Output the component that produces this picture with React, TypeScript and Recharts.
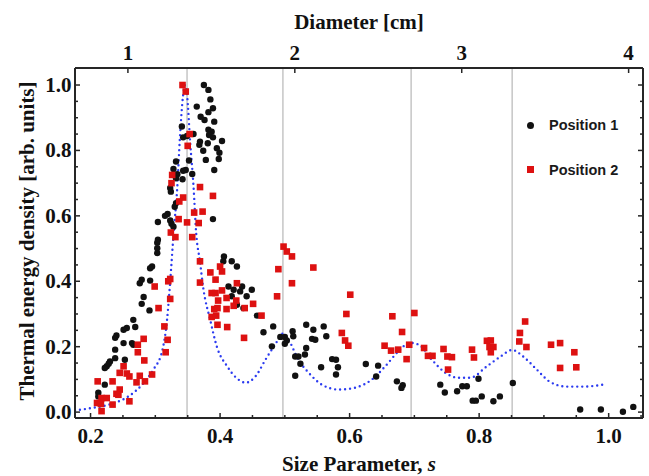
import React from "react";
import { ComposedChart, Scatter, Line, XAxis, YAxis, ReferenceLine, Legend, Label } from "recharts";

const SERIF = "'Liberation Serif', 'Times New Roman', Times, serif";
const SANS = "'Liberation Sans', Arial, Helvetica, sans-serif";
const FRAME = "#262626";
const INK = "#111";

// size parameter s per cm of diameter (top axis)
const S_PER_CM = 0.2577;

// Position 1 measurements [s, energy]
const position1: [number, number][] = [
  [0.375, 1.0], [0.382, 0.985], [0.364, 0.934], [0.385, 0.956], [0.389, 0.929], [0.382, 0.917],
  [0.37, 0.903], [0.376, 0.893], [0.391, 0.888], [0.341, 0.873], [0.382, 0.863], [0.387, 0.857],
  [0.383, 0.847], [0.389, 0.84], [0.343, 0.84], [0.359, 0.85], [0.349, 0.844], [0.403, 0.829],
  [0.369, 0.827], [0.368, 0.817], [0.381, 0.822], [0.395, 0.807], [0.399, 0.793], [0.374, 0.799],
  [0.398, 0.774], [0.378, 0.771], [0.332, 0.766], [0.352, 0.769], [0.328, 0.743], [0.343, 0.738],
  [0.347, 0.74], [0.391, 0.74], [0.334, 0.727], [0.357, 0.728], [0.332, 0.715], [0.342, 0.712],
  [0.323, 0.685], [0.324, 0.674], [0.332, 0.639], [0.33, 0.628], [0.319, 0.606], [0.315, 0.6],
  [0.304, 0.581], [0.323, 0.586], [0.325, 0.576], [0.328, 0.567], [0.389, 0.59], [0.304, 0.527],
  [0.303, 0.518], [0.303, 0.501], [0.303, 0.486], [0.295, 0.445], [0.292, 0.44], [0.279, 0.405],
  [0.276, 0.394], [0.292, 0.402], [0.282, 0.352], [0.279, 0.331], [0.291, 0.311], [0.266, 0.282],
  [0.256, 0.257], [0.251, 0.252], [0.269, 0.26], [0.24, 0.234], [0.238, 0.227], [0.251, 0.211],
  [0.266, 0.206], [0.264, 0.211], [0.238, 0.191], [0.238, 0.165], [0.253, 0.16], [0.225, 0.14],
  [0.222, 0.135], [0.23, 0.155], [0.228, 0.148], [0.222, 0.084], [0.212, 0.059], [0.212, 0.048],
  [0.406, 0.476], [0.405, 0.461], [0.418, 0.461], [0.426, 0.445], [0.413, 0.384], [0.421, 0.374],
  [0.434, 0.384], [0.431, 0.369], [0.449, 0.374], [0.441, 0.354], [0.418, 0.354], [0.426, 0.328],
  [0.436, 0.318], [0.457, 0.295], [0.482, 0.262], [0.467, 0.244], [0.48, 0.201],
  [0.493, 0.23], [0.5, 0.23], [0.503, 0.219], [0.5, 0.209], [0.512, 0.247], [0.513, 0.232],
  [0.516, 0.17], [0.521, 0.17], [0.524, 0.148], [0.516, 0.111], [0.533, 0.267], [0.544, 0.252],
  [0.542, 0.224], [0.547, 0.221], [0.533, 0.196], [0.531, 0.176], [0.56, 0.262], [0.564, 0.232],
  [0.556, 0.137], [0.573, 0.162], [0.579, 0.16], [0.582, 0.137], [0.579, 0.115], [0.625, 0.147],
  [0.644, 0.142], [0.641, 0.109], [0.673, 0.094], [0.682, 0.082], [0.68, 0.074], [0.74, 0.084],
  [0.747, 0.06], [0.766, 0.064], [0.774, 0.079], [0.781, 0.079], [0.799, 0.102], [0.79, 0.035],
  [0.795, 0.035], [0.804, 0.048], [0.822, 0.033], [0.832, 0.048], [0.852, 0.089], [0.956, 0.008],
  [0.988, 0.008], [1.022, 0.001], [1.038, 0.016],
];

// Position 2 measurements [s, energy]
const position2: [number, number][] = [
  [0.342, 1.0], [0.347, 0.98], [0.353, 0.85], [0.35, 0.814], [0.326, 0.725], [0.325, 0.7],
  [0.369, 0.688], [0.389, 0.661], [0.343, 0.656], [0.337, 0.644], [0.36, 0.61], [0.373, 0.613],
  [0.336, 0.59], [0.349, 0.58], [0.367, 0.578], [0.324, 0.549], [0.331, 0.535], [0.357, 0.535],
  [0.369, 0.461], [0.369, 0.396], [0.32, 0.4], [0.323, 0.407], [0.299, 0.384], [0.323, 0.346],
  [0.305, 0.318], [0.314, 0.262], [0.319, 0.221], [0.316, 0.183], [0.282, 0.224], [0.273, 0.206],
  [0.273, 0.183], [0.283, 0.158], [0.276, 0.111], [0.295, 0.115], [0.284, 0.094], [0.271, 0.091],
  [0.251, 0.14], [0.245, 0.12], [0.256, 0.118], [0.26, 0.109], [0.245, 0.069], [0.24, 0.056],
  [0.234, 0.094], [0.211, 0.094], [0.26, 0.033], [0.217, 0.043], [0.225, 0.043], [0.21, 0.028],
  [0.216, 0.025], [0.234, 0.023], [0.217, 0.003], [0.243, 0.053],
  [0.385, 0.427], [0.4, 0.445], [0.403, 0.43], [0.393, 0.405], [0.426, 0.394], [0.387, 0.364],
  [0.393, 0.364], [0.403, 0.372], [0.397, 0.341], [0.41, 0.349], [0.425, 0.341], [0.391, 0.315],
  [0.396, 0.318], [0.41, 0.315], [0.421, 0.325], [0.438, 0.318], [0.387, 0.291], [0.394, 0.295],
  [0.451, 0.331], [0.464, 0.295], [0.396, 0.267], [0.411, 0.26], [0.437, 0.227], [0.49, 0.437],
  [0.488, 0.354], [0.498, 0.506], [0.503, 0.491], [0.511, 0.476], [0.511, 0.394], [0.544, 0.442],
  [0.601, 0.359], [0.595, 0.3], [0.588, 0.242], [0.593, 0.219], [0.598, 0.203], [0.666, 0.293],
  [0.681, 0.245], [0.654, 0.203], [0.664, 0.188], [0.675, 0.191], [0.688, 0.162], [0.692, 0.206],
  [0.7, 0.303], [0.715, 0.196], [0.721, 0.172], [0.728, 0.172], [0.745, 0.193], [0.751, 0.17],
  [0.758, 0.168], [0.752, 0.13], [0.789, 0.191], [0.792, 0.167], [0.812, 0.218], [0.818, 0.219],
  [0.816, 0.199], [0.822, 0.199], [0.818, 0.183], [0.871, 0.277], [0.863, 0.242], [0.862, 0.216],
  [0.873, 0.199], [0.911, 0.206], [0.925, 0.211], [0.947, 0.183], [0.925, 0.135], [0.95, 0.137],
];

// model curve (blue dotted)
const model: [number, number][] = [
  [0.176, 0.005], [0.2, 0.012], [0.23, 0.024], [0.26, 0.05], [0.282, 0.089], [0.297, 0.13],
  [0.311, 0.19], [0.318, 0.28], [0.323, 0.4], [0.328, 0.54], [0.334, 0.69], [0.338, 0.84],
  [0.343, 0.97], [0.346, 1.0], [0.349, 0.97], [0.354, 0.82], [0.359, 0.69], [0.363, 0.55],
  [0.369, 0.46], [0.374, 0.38], [0.385, 0.28], [0.395, 0.2], [0.411, 0.14], [0.425, 0.105],
  [0.44, 0.09], [0.455, 0.11], [0.47, 0.16], [0.486, 0.21], [0.497, 0.24], [0.506, 0.22],
  [0.521, 0.16], [0.537, 0.12], [0.557, 0.084], [0.583, 0.069], [0.609, 0.075], [0.634, 0.099],
  [0.655, 0.14], [0.675, 0.185], [0.693, 0.212], [0.707, 0.206], [0.727, 0.16], [0.748, 0.12],
  [0.768, 0.105], [0.786, 0.105], [0.812, 0.14], [0.833, 0.17], [0.851, 0.19], [0.868, 0.17],
  [0.889, 0.13], [0.909, 0.093], [0.935, 0.078], [0.96, 0.078], [0.995, 0.085],
];

// resonance positions (grey vertical lines)
const resonances = [0.349, 0.497, 0.695, 0.851];

const sTicks = [0.2, 0.25, 0.3, 0.35, 0.4, 0.45, 0.5, 0.55, 0.6, 0.65, 0.7, 0.75, 0.8, 0.85, 0.9, 0.95, 1.0, 1.05];
const densityTicks = [0, 0.05, 0.1, 0.15, 0.2, 0.25, 0.3, 0.35, 0.4, 0.45, 0.5, 0.55, 0.6, 0.65, 0.7, 0.75, 0.8, 0.85, 0.9, 0.95, 1.0];
const diameterTicks = [1, 2, 3, 4];

const toPoints = (arr: [number, number][]) => arr.map(([s, v]) => ({ s, v }));
const p1Data = toPoints(position1);
const p2Data = toPoints(position2);
const modelData = toPoints(model);

const isMajor = (v: number, step: number) => Math.abs(v / step - Math.round(v / step)) < 1e-6;

const labelStyle = { fontFamily: SERIF, fontWeight: "bold" as const, fontSize: 21, fill: INK };

function BottomTick({ x, y, payload }: any) {
  const v = payload.value;
  const major = isMajor(v, 0.2);
  return (
    <g>
      <line x1={x} x2={x} y1={y} y2={y - (major ? 5 : 3)} stroke={FRAME} strokeWidth={1.5} />
      {major && (
        <text x={x} y={y + 25} textAnchor="middle" {...labelStyle}>
          {v.toFixed(1)}
        </text>
      )}
    </g>
  );
}

function TopTick({ x, y, payload }: any) {
  return (
    <g>
      <line x1={x} x2={x} y1={y} y2={y + 5} stroke={FRAME} strokeWidth={1.5} />
      <text x={x} y={y - 8} textAnchor="middle" {...labelStyle}>
        {Math.round(payload.value / S_PER_CM)}
      </text>
    </g>
  );
}

function LeftTick({ x, y, payload }: any) {
  const v = payload.value;
  const major = isMajor(v, 0.2);
  return (
    <g>
      <line x1={x} x2={x + (major ? 5 : 3)} y1={y} y2={y} stroke={FRAME} strokeWidth={1.5} />
      {major && (
        <text x={x - 3.5} y={y + 7} textAnchor="end" {...labelStyle}>
          {v.toFixed(1)}
        </text>
      )}
    </g>
  );
}

function RightTick({ x, y, payload }: any) {
  const major = isMajor(payload.value, 0.2);
  return <line x1={x} x2={x - (major ? 5 : 3)} y1={y} y2={y} stroke={FRAME} strokeWidth={1.5} />;
}

function SizeTitle({ viewBox }: any) {
  const { x, y, width } = viewBox;
  return (
    <text x={x + width / 2} y={y + 53} textAnchor="middle" {...labelStyle}>
      Size Parameter, <tspan fontStyle="italic">s</tspan>
    </text>
  );
}

function DiameterTitle({ viewBox }: any) {
  const { x, width } = viewBox;
  return (
    <text x={x + width / 2} y={29} textAnchor="middle" {...labelStyle}>
      Diameter [cm]
    </text>
  );
}

function EnergyTitle({ viewBox }: any) {
  const { y, height } = viewBox;
  const cy = y + height / 2 - 2;
  return (
    <text x={34} y={cy} textAnchor="middle" transform={`rotate(-90, 34, ${cy})`} {...labelStyle}>
      Thermal energy density [arb. units]
    </text>
  );
}

function LegendBox({ payload }: any) {
  const items = (payload || []).filter((p: any) => p.type !== "none");
  return (
    <div style={{ fontFamily: SANS, fontWeight: "bold", fontSize: 14.5, color: "#1a1a1a" }}>
      {items.map((item: any, i: number) => (
        <div key={item.value} style={{ display: "flex", alignItems: "center", height: 22, marginBottom: 22.5 }}>
          <div
            style={{
              width: 7,
              height: 7,
              marginLeft: 2.5,
              marginRight: 15.5,
              background: item.color,
              borderRadius: i === 0 ? "50%" : 0,
            }}
          />
          <span>{item.value}</span>
        </div>
      ))}
    </div>
  );
}

const Dot = (p: any) => <circle cx={p.cx} cy={p.cy} r={3.2} fill={INK} />;
const Square = (p: any) => <rect x={p.cx - 3.3} y={p.cy - 3.3} width={6.6} height={6.6} fill="#dd1111" />;

export default function App() {
  const axisLine = { stroke: FRAME, strokeWidth: 2 };
  const xDomain = [0.176, 1.053];
  const yDomain = [-0.018, 1.052];
  return (
    <div style={{ position: "absolute", left: 0, top: 0, width: 649, height: 476, background: "#fff" }}>
      <ComposedChart width={649} height={476} margin={{ top: 0, right: 0, bottom: 0, left: 0 }}>
        <XAxis
          xAxisId="s"
          dataKey="s"
          type="number"
          orientation="bottom"
          domain={xDomain}
          allowDataOverflow
          ticks={sTicks}
          interval={0}
          height={58}
          tickSize={0}
          tickMargin={0}
          tickLine={false}
          axisLine={axisLine}
          tick={BottomTick}
        >
          <Label content={SizeTitle} />
        </XAxis>
        <XAxis
          xAxisId="top"
          dataKey="s"
          type="number"
          orientation="top"
          domain={xDomain}
          allowDataOverflow
          ticks={diameterTicks.map((d) => d * S_PER_CM)}
          interval={0}
          height={68}
          tickSize={0}
          tickMargin={0}
          tickLine={false}
          axisLine={axisLine}
          tick={TopTick}
        >
          <Label content={DiameterTitle} />
        </XAxis>
        <YAxis
          yAxisId="v"
          dataKey="v"
          type="number"
          orientation="left"
          domain={yDomain}
          allowDataOverflow
          ticks={densityTicks}
          interval={0}
          width={75}
          tickSize={0}
          tickMargin={0}
          tickLine={false}
          axisLine={axisLine}
          tick={LeftTick}
        >
          <Label content={EnergyTitle} />
        </YAxis>
        <YAxis
          yAxisId="right"
          dataKey="v"
          type="number"
          orientation="right"
          domain={yDomain}
          allowDataOverflow
          ticks={densityTicks}
          interval={0}
          width={6}
          tickSize={0}
          tickMargin={0}
          tickLine={false}
          axisLine={axisLine}
          tick={RightTick}
        />
        {resonances.map((r) => (
          <ReferenceLine key={r} x={r} xAxisId="s" yAxisId="v" stroke="#c9c9c9" strokeWidth={1.6} />
        ))}
        <Scatter
          name="Position 1"
          data={p1Data}
          xAxisId="s"
          yAxisId="v"
          fill={INK}
          shape={Dot}
          isAnimationActive={false}
        />
        <Scatter
          name="Position 2"
          data={p2Data}
          xAxisId="top"
          yAxisId="right"
          fill="#dd1111"
          shape={Square}
          isAnimationActive={false}
        />
        <Line
          data={modelData}
          xAxisId="s"
          yAxisId="v"
          dataKey="v"
          type="monotone"
          stroke="#2b3bf0"
          strokeWidth={2.4}
          strokeDasharray="0 5"
          strokeLinecap="round"
          dot={false}
          legendType="none"
          isAnimationActive={false}
        />
        <Legend
          layout="vertical"
          align="center"
          verticalAlign="middle"
          wrapperStyle={{ left: 524, top: 114, width: 125 }}
          content={LegendBox}
        />
      </ComposedChart>
    </div>
  );
}
